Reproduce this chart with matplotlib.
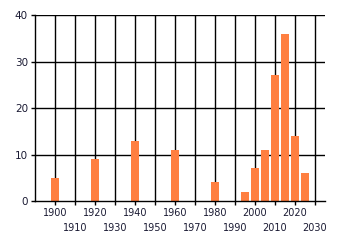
import matplotlib.pyplot as plt

# ── Data ───────────────────────────────────────────────────────────────────────
years = [1900, 1920, 1940, 1960, 1980, 1995, 2000, 2005, 2010, 2015, 2020, 2025]
counts = [5, 9, 13, 11, 4, 2, 7, 11, 27, 36, 14, 6]
x_upper = list(range(1900, 2031, 20))   # first label row
x_lower = list(range(1910, 2031, 20))   # second label row
y_ticks = [0, 10, 20, 30, 40]

BAR_COLOR = '#FF7F40'
TEXT_COLOR = '#1a1a33'

fig = plt.figure(figsize=(3.4, 2.45), dpi=100)
ax = fig.add_axes([35 / 340, 44 / 245, 290 / 340, 186 / 245])

ax.bar(years, counts, width=4, color=BAR_COLOR, zorder=3)

# grid: vertical at each decade, horizontal at each 10
for x in sorted(x_upper + x_lower):
    ax.axvline(x, color='black', linewidth=1, zorder=1)
for y in y_ticks[1:]:
    ax.axhline(y, color='black', linewidth=1, zorder=1)

ax.set_xlim(1890, 2035)
ax.set_ylim(0, 40)

# alternating two-row x labels: major ticks on top row, minor ticks below
ax.set_xticks(x_upper)
ax.set_xticklabels([str(v) for v in x_upper], fontsize=7, color=TEXT_COLOR)
ax.set_xticks(x_lower, minor=True)
ax.set_xticklabels([str(v) for v in x_lower], minor=True, fontsize=7, color=TEXT_COLOR)
ax.tick_params(axis='x', which='major', length=3, width=1, pad=2)
ax.tick_params(axis='x', which='minor', length=3, width=1, pad=13)

ax.set_yticks(y_ticks)
ax.set_yticklabels([str(v) for v in y_ticks], fontsize=7.5, color=TEXT_COLOR)
ax.tick_params(axis='y', length=3, width=1, pad=2)

for side in ['top', 'right']:
    ax.spines[side].set_visible(False)
for side in ['left', 'bottom']:
    ax.spines[side].set_linewidth(1)
    ax.spines[side].set_zorder(4)

fig.savefig('out.png', dpi=100)
plt.close(fig)
